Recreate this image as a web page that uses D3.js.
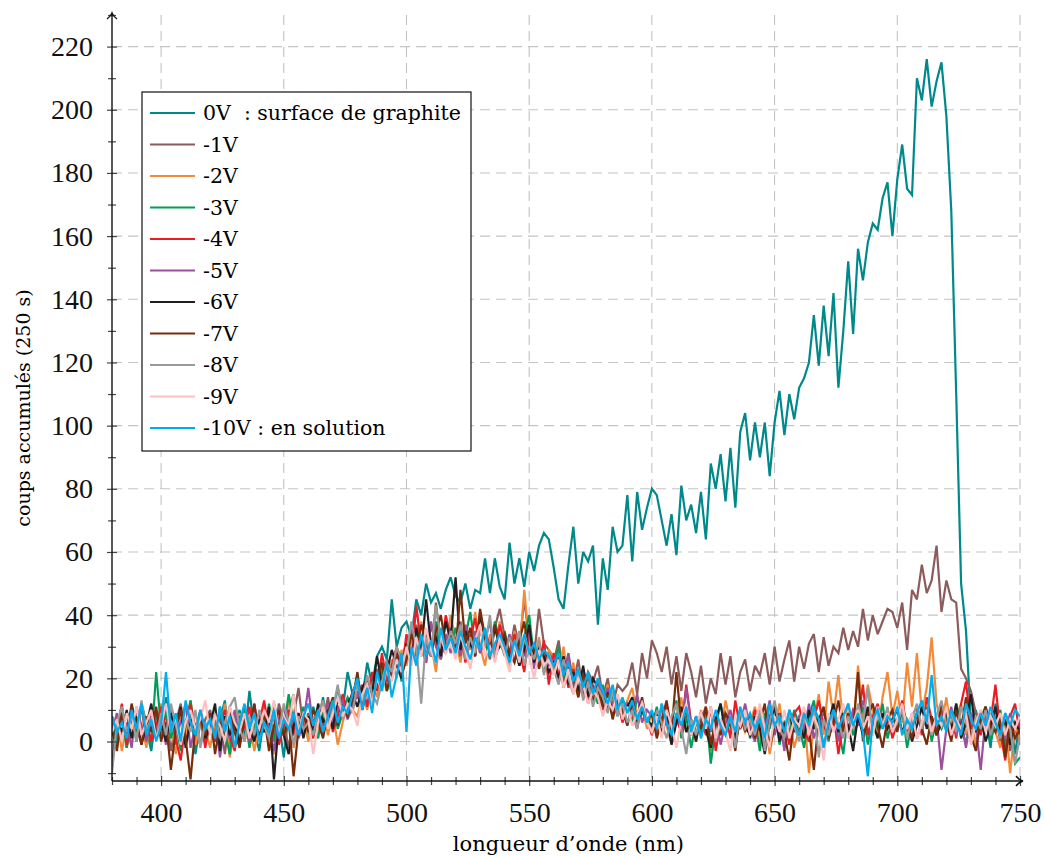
<!DOCTYPE html>
<html>
<head>
<meta charset="utf-8">
<script src="https://cdn.jsdelivr.net/npm/d3@7"></script>
<style>
  body { margin: 0; background: #fff; }
</style>
</head>
<body>
<div id="chart"></div>
<script>
// wavelength grid (nm), one sample every 2 nm
const wavelengths = d3.range(380, 751, 2);

// counts per series (rows of 20 nm)
const v0 = [
  6, -2, 10, 3, 8, 0, 12, 4, -3, 9,
  2, 14, 5, -1, 8, 3, 11, -4, 6, 2,
  9, 0, 7, 13, -2, 5, 10, 1, 16, 4,
  -3, 8, 2, 12, 6, -5, 9, 15, 3, 7,
  1, 11, 6, 14, 4, 9, 17, 10, 22, 15,
  20, 14, 25, 18, 27, 30, 26, 45, 30, 36,
  38, 33, 45, 40, 50, 44, 47, 42, 48, 52,
  46, 44, 50, 42, 48, 47, 58, 47, 58, 49,
  45, 63, 50, 58, 49, 60, 54, 62, 66, 64,
  55, 45, 42, 56, 68, 50, 60, 57, 62, 37,
  58, 48, 68, 60, 62, 78, 57, 79, 67, 74,
  80, 78, 70, 62, 72, 59, 81, 70, 75, 66,
  79, 64, 88, 80, 91, 76, 93, 74, 98, 104,
  89, 101, 90, 101, 84, 101, 111, 97, 110, 102,
  112, 115, 120, 135, 119, 138, 122, 142, 112, 130,
  152, 129, 156, 146, 158, 164, 162, 172, 177, 160,
  178, 189, 175, 173, 210, 203, 216, 201, 209, 215,
  198, 168, 110, 50, 35, 6, 10, 3, 8, -2,
  12, 5, 0, 9, -4, 7
];
const v1 = [
  6, 1, 9, -2, 8, 3, 11, 0, 7, 4,
  2, 9, -3, 6, 12, 1, 8, 3, -1, 7,
  10, 2, 6, -4, 9, 4, 1, 11, 5, 0,
  7, 3, 9, 1, 12, 6, -2, 8, 17, 4,
  9, 2, 10, 6, 14, 5, 11, 8, 13, 10,
  16, 12, 20, 15, 23, 18, 26, 22, 28, 24,
  32, 26, 37, 29, 34, 27, 44, 31, 28, 36,
  30, 38, 27, 34, 29, 41, 32, 26, 36, 42,
  33, 28, 37, 30, 45, 32, 27, 42, 31, 29,
  25, 32, 21, 28, 18, 26, 15, 22, 19, 24,
  14, 20, 11, 18, 16, 18, 25, 15, 28, 20,
  32, 28, 22, 30, 18, 27, 16, 28, 22, 14,
  24, 12, 20, 15, 28, 18, 27, 14, 22, 26,
  16, 24, 21, 28, 18, 30, 19, 26, 32, 19,
  30, 23, 31, 34, 22, 33, 24, 30, 28, 36,
  29, 35, 30, 42, 32, 40, 34, 38, 42, 41,
  36, 44, 29, 48, 45, 56, 47, 51, 62, 41,
  51, 45, 44, 23, 20, 16, 9, 5, 11, 2,
  8, 0, 6, -3, 4, -1
];
const v2 = [
  2, 8, -3, 5, 10, 1, 6, -2, 9, 3,
  12, 0, 5, -4, 8, 2, 13, -1, 6, 4,
  -2, 7, 3, 12, -5, 4, 9, 0, 6, -3,
  5, 11, 1, -4, 8, 3, 14, -2, 6, 9,
  0, 8, 3, 11, 2, 9, -1, 6, 12, 10,
  8, 15, 10, 19, 14, 22, 17, 26, 20, 29,
  24, 33, 26, 38, 27, 31, 22, 35, 28, 40,
  32, 25, 36, 29, 41, 30, 24, 34, 27, 38,
  30, 23, 35, 28, 48, 31, 26, 33, 22, 29,
  27, 20, 30, 18, 25, 14, 22, 19, 13, 20,
  12, 18, 9, 15, 7, 13, 17, 8, 11, 4,
  9, 2, 12, 5, -1, 8, 14, 3, 7, 0,
  10, 4, -3, 8, 2, 13, 6, -2, 9, 3,
  6, 11, 0, 7, -4, 5, 12, 1, 8, -2,
  4, 9, -10, 6, 15, 2, 19, 8, 21, 5,
  12, 3, 24, 7, 18, 10, 2, 14, 22, 8,
  16, 6, 25, 11, 28, 9, 17, 33, 12, 5,
  14, 3, 8, 12, 2, 7, -1, 10, 4, 9,
  3, -2, 6, -10, 5, 1
];
const v3 = [
  5, 0, 9, -2, 7, 3, 12, 6, -1, 22,
  4, 10, 1, 7, -3, 5, 13, 2, 8, -1,
  6, 1, 11, 3, -4, 8, 2, 10, -2, 5,
  9, 3, 12, 0, 7, 4, 15, 6, 2, 11,
  3, 7, 1, 10, 5, 12, 4, 9, 14, 11,
  16, 10, 20, 13, 18, 23, 16, 21, 27, 19,
  30, 25, 36, 27, 33, 29, 38, 26, 34, 30,
  36, 28, 33, 41, 29, 35, 31, 27, 38, 32,
  35, 27, 30, 24, 33, 40, 26, 31, 22, 28,
  24, 30, 19, 25, 17, 22, 14, 20, 16, 12,
  18, 10, 15, 8, 13, 11, 6, 14, 9, 7,
  4, 11, 2, 9, 6, 13, 1, 8, -2, 6,
  3, 10, -7, 5, 12, 2, 8, 0, 6, 11,
  1, 7, -3, 9, 4, 12, -1, 6, 3, 10,
  5, -2, 8, 13, 3, 7, 0, 10, 4, -4,
  9, 2, 6, 11, -1, 8, 4, 12, 1, 7,
  5, 10, -2, 6, 9, 3, 11, 0, 7, 4,
  8, 2, 12, 5, -1, 9, 3, 7, 11, 0,
  6, 10, -2, 4, -7, -5
];
const v4 = [
  8, 3, 12, -1, 6, 10, 2, 7, 0, 5,
  11, 4, 9, 1, -6, 6, 12, 3, 8, -2,
  7, 0, 5, 10, 2, -3, 8, 4, 11, 1,
  6, 13, 3, 8, -1, 5, 10, 2, 9, 4,
  7, 1, 10, 5, 12, 3, 8, 15, 9, 16,
  14, 18, 11, 22, 16, 28, 19, 24, 30, 22,
  34, 26, 43, 30, 25, 37, 31, 28, 40, 33,
  29, 36, 25, 33, 39, 28, 35, 30, 26, 37,
  31, 26, 34, 29, 22, 35, 27, 24, 32, 18,
  28, 21, 25, 17, 23, 15, 20, 12, 18, 14,
  10, 16, 8, 13, 6, 11, 9, 4, 12, 7,
  2, 9, 5, 12, 0, 7, 3, 18, 6, 1,
  8, 2, 11, -3, 6, 9, 1, 13, 4, 7,
  3, 10, 5, -2, 8, 12, 2, 6, -1, 9,
  11, 4, 0, 7, 13, 5, 2, 9, -4, 6,
  3, 10, 7, 18, 2, 8, 12, 4, 9, 1,
  6, 13, 4, 8, 11, 2, 14, 7, 3, 10,
  5, 9, 1, 12, 19, 4, 7, 2, 10, 6,
  18, 3, -6, 8, 12, 2
];
const v5 = [
  3, 9, 1, 6, -2, 11, 5, 0, 8, 4,
  7, -1, 10, 3, 6, 12, -2, 5, 9, 2,
  4, 8, -5, 6, 1, 10, 3, 7, 0, 12,
  2, 9, 5, -3, 7, 11, 4, 8, 1, 6,
  17, 4, 9, 2, 12, 6, 10, 13, 7, 11,
  15, 11, 19, 14, 21, 17, 24, 20, 26, 23,
  29, 35, 27, 32, 25, 38, 30, 26, 34, 28,
  33, 27, 37, 30, 35, 28, 32, 38, 26, 31,
  28, 34, 25, 31, 27, 36, 23, 30, 26, 24,
  26, 19, 23, 27, 18, 22, 16, 21, 15, 19,
  13, 17, 11, 14, 7, 12, 9, 15, 6, 10,
  8, 3, 11, 6, 1, 9, 4, 17, 5, 2,
  7, 11, 3, 8, -1, 6, 10, 2, 5, 12,
  4, 0, 9, 6, 13, 2, 7, -3, 10, 5,
  8, 3, 12, 1, 6, 9, 4, 11, 0, 7,
  2, 10, 5, 13, 8, 3, 11, 6, 9, 4,
  7, 12, 3, 9, 1, 6, 10, 5, 8, -9,
  4, 11, 2, 7, -2, 9, 5, -9, 8, 3,
  10, 6, 1, 9, 4, 7
];
const v6 = [
  -8, 7, 3, 10, 1, 8, -1, 5, 12, 2,
  6, 0, 9, 4, 11, -2, 7, 3, 10, 1,
  5, 12, -3, 8, 2, 6, -1, 9, 4, 0,
  7, 3, 11, -12, 6, 2, -4, 5, 9, 1,
  8, 3, 12, 6, 10, 4, 14, 9, 12, 15,
  11, 17, 20, 15, 27, 18, 22, 29, 24, 20,
  31, 26, 36, 28, 45, 30, 33, 27, 38, 32,
  52, 29, 35, 31, 27, 40, 33, 28, 36, 30,
  33, 26, 31, 24, 29, 37, 25, 30, 27, 22,
  25, 20, 27, 18, 22, 16, 24, 14, 20, 17,
  12, 15, 9, 13, 8, 11, 14, 6, 10, 7,
  5, 10, 2, 8, -1, 6, 11, 3, 7, 0,
  9, 4, -2, 7, 12, 3, 6, 1, 10, 5,
  2, 8, 4, -4, 6, 11, 0, 5, 9, 3,
  7, 1, 10, 4, 8, -2, 6, 12, 3, 9,
  5, -3, 8, 2, 11, 6, 1, 9, 4, 7,
  10, 3, 7, 0, 5, 11, 4, 8, 2, 6,
  9, 4, 12, 1, 6, 15, 3, 8, 0, 5,
  11, 2, 7, -1, 6, 3
];
const v7 = [
  4, -3, 9, 2, 12, 5, -1, 8, 3, 11,
  0, 6, -9, 4, 10, 1, -12, 5, 8, 2,
  9, -4, 6, 1, 11, 3, -2, 7, 4, 12,
  1, 8, -3, 5, 10, 2, 7, -11, 4, 9,
  3, 10, 6, 1, 9, 14, 5, 11, 8, 13,
  22, 10, 17, 12, 19, 25, 16, 23, 28, 21,
  26, 34, 29, 37, 31, 27, 35, 40, 30, 33,
  28, 48, 31, 36, 27, 42, 33, 29, 37, 31,
  34, 28, 25, 32, 38, 27, 30, 23, 29, 26,
  22, 28, 17, 24, 20, 14, 21, 18, 13, 17,
  11, 15, 7, 13, 10, 5, 12, 8, 14, 6,
  9, 1, 7, 13, 3, 22, 5, 10, 2, 8,
  4, 11, -1, 7, 2, 9, 6, -3, 10, 3,
  8, 1, 6, 12, -2, 5, 9, 3, -6, 7,
  2, 10, 4, -9, 7, 11, 1, 6, 13, 3,
  9, 4, 22, 0, 8, 12, 5, -2, 7, 10,
  3, 11, 6, 1, 9, 4, -1, 8, 2, 12,
  6, 0, 10, 4, 14, 2, -3, 7, 11, 5,
  3, 8, -5, 6, 1, 4
];
const v8 = [
  -10, 6, 11, 3, 8, 0, 13, 4, 7, 1,
  9, 2, 12, 5, 0, 7, 3, 10, -2, 6,
  3, 9, 1, 6, 11, 14, 4, 0, 8, 2,
  10, 5, 1, 9, 3, 12, 6, -1, 8, 4,
  6, 2, 9, 13, 5, 10, 18, 7, 12, 9,
  18, 13, 21, 15, 12, 19, 25, 22, 30, 26,
  28, 38, 30, 12, 33, 27, 43, 32, 29, 35,
  31, 37, 26, 33, 28, 35, 30, 40, 27, 32,
  27, 33, 29, 35, 24, 30, 26, 32, 21, 28,
  23, 18, 26, 20, 15, 22, 13, 19, 11, 17,
  14, 9, 16, 8, 12, 6, 10, 4, 13, 7,
  3, 10, 6, 1, 8, 12, 4, -4, 7, 2,
  9, 5, 11, 0, 6, 3, 8, -2, 10, 4,
  7, 2, 10, -3, 6, 13, 4, 1, 9, 5,
  0, 8, 3, 11, -5, 7, 2, 10, 6, 1,
  8, 4, 12, 6, 17, 2, 9, 5, 11, 3,
  6, 10, 1, 7, 12, 4, 9, 2, 8, 13,
  5, 9, 3, 11, 6, 0, 8, 4, 10, 2,
  7, 1, 9, 4, -7, 2
];
const v9 = [
  3, 7, 0, 9, 4, 11, 2, 6, 10, 1,
  5, 12, 3, 8, -1, 6, 10, 4, 7, 13,
  2, 8, 5, 0, 11, 6, 3, 9, 1, 7,
  4, 10, 6, 13, 2, 8, 5, 15, 3, 9,
  7, -4, 6, 11, 4, 9, 14, 8, 12, 10,
  5, 15, 18, 12, 20, 16, 23, 19, 26, 22,
  30, 24, 33, 27, 36, 29, 25, 34, 28, 31,
  26, 34, 29, 23, 32, 37, 27, 30, 25, 33,
  28, 22, 31, 25, 34, 27, 20, 29, 24, 26,
  21, 26, 17, 23, 15, 20, 18, 12, 16, 14,
  8, 13, 10, 15, 7, 11, 5, 9, 12, 6,
  3, 8, 1, 10, 5, -2, 7, 12, 2, 6,
  9, 4, 11, 1, 7, 3, -3, 8, 5, 10,
  2, 6, 12, 4, -2, 8, 3, 10, 1, 7,
  5, 11, 2, 8, 4, -6, 9, 3, 7, 12,
  1, 6, 10, 4, 8, 2, 11, 5, 9, 3,
  7, 12, 4, 9, 1, 6, 10, 3, 8, 5,
  11, 2, 7, 4, 9, -1, 6, 10, 3, 8,
  5, 9, 2, 7, 4, 8
];
const v10 = [
  8, 3, 6, 1, 10, 4, 12, 2, 7, 0,
  5, 22, 3, 9, 0, 13, 6, 2, 10, 4,
  7, 1, 11, 3, 8, -2, 6, 12, 4, 9,
  0, 6, 3, 10, 1, 7, 4, 9, 2, 8,
  12, 5, 10, 3, 8, 13, 6, 11, 9, 15,
  20, 10, 17, 9, 22, 16, 25, 14, 21, 28,
  3, 30, 24, 34, 27, 32, 25, 36, 29, 33,
  28, 35, 30, 26, 33, 29, 36, 27, 31, 34,
  30, 25, 32, 27, 34, 28, 31, 26, 29, 27,
  24, 28, 21, 25, 19, 23, 17, 22, 15, 20,
  16, 12, 18, 10, 14, 9, 13, 7, 11, 6,
  10, 4, 12, 6, 2, 9, 5, 11, 3, 8,
  1, 7, 4, 10, 5, 2, 8, 3, 11, 6,
  9, 4, 7, 1, 12, 5, 8, 3, 10, 6,
  2, 9, 5, 11, 7, -2, 6, 10, 4, 8,
  12, 5, 9, 3, -11, 7, 10, 4, 8, 6,
  11, 2, 7, 4, 9, 13, 6, 21, 5, 8,
  3, 10, 6, 2, 12, 7, 4, 9, 5, 11,
  6, 2, 9, 5, 10, 8
];

const seriesValues = [v0, v1, v2, v3, v4, v5, v6, v7, v8, v9, v10];
const seriesNames = ["0V  : surface de graphite", "-1V", "-2V", "-3V", "-4V", "-5V",
  "-6V", "-7V", "-8V", "-9V", "-10V : en solution"];
const seriesColors = ["#00898a", "#8c5b5b", "#f28a3a", "#009e5a", "#ed1c24", "#9b4f9e",
  "#231f20", "#772d0b", "#9a9a9a", "#ffbfbf", "#00aeef"];

const xMajor = d3.range(400, 751, 50);
const xMinor = d3.range(380, 751, 10).filter(d => d % 50 !== 0);
const yMajor = d3.range(0, 221, 20);
const yMinor = d3.range(-10, 231, 10).filter(d => d % 20 !== 0);

// set the dimensions and margins of the graph
const margin = {top: 15, right: 24, bottom: 75, left: 112},
    width = 1044 - margin.left - margin.right,
    height = 856 - margin.top - margin.bottom;

const svg = d3.select("#chart")
  .append("svg")
    .attr("width", 1044)
    .attr("height", 856)
  .append("g")
    .attr("transform", `translate(${margin.left}, ${margin.top})`);

const x = d3.scaleLinear().domain([380, 750]).range([0, width]);
const y = d3.scaleLinear().domain([-12.5, 230]).range([height, 0]);

// grid
const grid = svg.append("g").attr("stroke", "#c4c4c4").attr("stroke-width", 1.1)
  .attr("stroke-dasharray", "10,6");
grid.selectAll(".gx").data(xMajor).join("line")
  .attr("x1", d => x(d)).attr("x2", d => x(d))
  .attr("y1", 0).attr("y2", height);
grid.selectAll(".gy").data(yMajor).join("line")
  .attr("x1", 0).attr("x2", width)
  .attr("y1", d => y(d)).attr("y2", d => y(d));

// data lines
svg.append("clipPath").attr("id", "clip")
  .append("rect").attr("width", width).attr("height", height);

const line = d3.line()
  .x((d, i) => x(wavelengths[i]))
  .y(d => y(d));

svg.append("g").attr("clip-path", "url(#clip)")
  .selectAll("path")
  .data(seriesValues)
  .join("path")
    .attr("d", d => line(d))
    .attr("fill", "none")
    .attr("stroke", (d, i) => seriesColors[i])
    .attr("stroke-width", 2.2)
    .attr("stroke-linejoin", "miter")
    .attr("stroke-miterlimit", 3);

// axes
const tickColor = "#3b4b4b";
const tickFont = "Liberation Serif, serif";
const xAxis = svg.append("g")
  .attr("transform", `translate(0, ${height})`)
  .call(d3.axisBottom(x).tickValues(xMajor).tickSize(5).tickPadding(16).tickFormat(d3.format("d")));
xAxis.select(".domain").remove();
xAxis.selectAll(".tick line").attr("y1", -5).attr("y2", 5).attr("stroke", tickColor).attr("stroke-width", 1.2);
xAxis.selectAll(".tick text").attr("font-size", 28).attr("font-family", tickFont).attr("fill", "#111");

const xAxisMinor = svg.append("g")
  .attr("transform", `translate(0, ${height})`)
  .call(d3.axisBottom(x).tickValues(xMinor).tickSize(4).tickFormat(""));
xAxisMinor.select(".domain").remove();
xAxisMinor.selectAll(".tick line").attr("y1", -4).attr("y2", 4).attr("stroke", tickColor).attr("stroke-width", 1.2);

const yAxis = svg.append("g")
  .call(d3.axisLeft(y).tickValues(yMajor).tickSize(5).tickPadding(14).tickFormat(d3.format("d")));
yAxis.select(".domain").remove();
yAxis.selectAll(".tick line").attr("x1", -5).attr("x2", 5).attr("stroke", tickColor).attr("stroke-width", 1.2);
yAxis.selectAll(".tick text").attr("font-size", 28).attr("font-family", tickFont).attr("fill", "#111");

const yAxisMinor = svg.append("g")
  .call(d3.axisLeft(y).tickValues(yMinor).tickSize(4).tickFormat(""));
yAxisMinor.select(".domain").remove();
yAxisMinor.selectAll(".tick line").attr("x1", -4).attr("x2", 4).attr("stroke", tickColor).attr("stroke-width", 1.2);

// axis lines with arrow heads
svg.append("line").attr("x1", 0).attr("x2", width + 2).attr("y1", height).attr("y2", height)
  .attr("stroke", "#111").attr("stroke-width", 1.4);
svg.append("line").attr("x1", 0).attr("x2", 0).attr("y1", height).attr("y2", -1)
  .attr("stroke", "#111").attr("stroke-width", 1.4);
svg.append("path")
  .attr("d", `M${width - 4},${height - 5} Q${width - 1},${height - 1} ${width + 3},${height} Q${width - 1},${height + 1} ${width - 4},${height + 5}`)
  .attr("fill", "none").attr("stroke", "#111").attr("stroke-width", 1.4);
svg.append("path")
  .attr("d", `M-5,4 Q-1,1 0,-2 Q1,1 5,4`)
  .attr("fill", "none").attr("stroke", "#111").attr("stroke-width", 1.4);

// axis titles
svg.append("text")
  .attr("x", x(566)).attr("y", height + 70)
  .attr("text-anchor", "middle")
  .attr("font-family", "DejaVu Serif, serif").attr("font-size", 21)
  .text("longueur d’onde (nm)");
svg.append("text")
  .attr("transform", `translate(${-82}, ${408 - margin.top}) rotate(-90)`)
  .attr("text-anchor", "middle")
  .attr("font-family", "DejaVu Serif, serif").attr("font-size", 19)
  .text("coups accumulés (250 s)");

// legend
const legend = svg.append("g").attr("transform", `translate(${142 - margin.left}, ${92 - margin.top})`);
legend.append("rect").attr("width", 329).attr("height", 359)
  .attr("fill", "#fff").attr("stroke", "#111").attr("stroke-width", 1.2);
const rows = legend.selectAll(".row").data(seriesNames).join("g")
  .attr("transform", (d, i) => `translate(0, ${21 + i * 31.5})`);
rows.append("line").attr("x1", 8).attr("x2", 53)
  .attr("stroke", (d, i) => seriesColors[i]).attr("stroke-width", 2.2);
rows.append("text").attr("x", 61).attr("y", 7)
  .attr("font-family", "DejaVu Serif, serif").attr("font-size", 20.5)
  .style("white-space", "pre")
  .text(d => d);
</script>
</body>
</html>
